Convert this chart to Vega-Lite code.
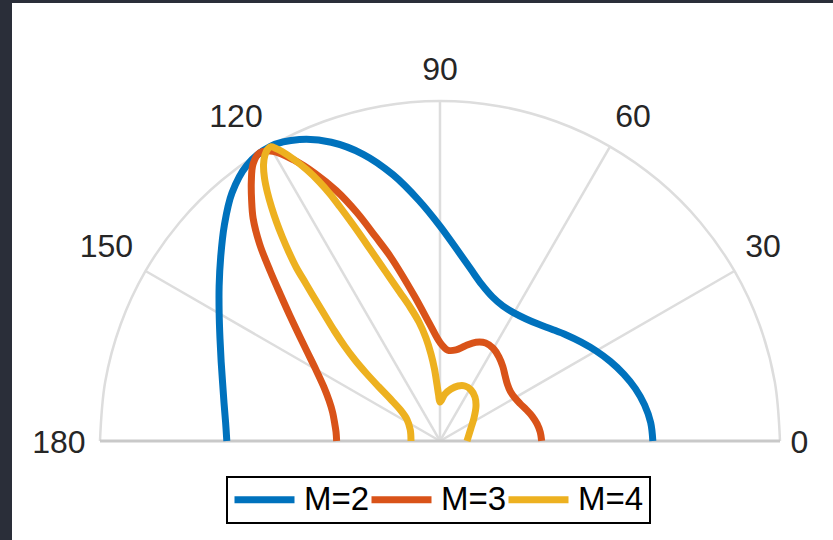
{
  "$schema": "https://vega.github.io/schema/vega-lite/v6.json",
  "width": 821,
  "height": 537,
  "autosize": {"type": "none"},
  "padding": {"left": 12, "top": 3, "right": 0, "bottom": 0},
  "background": "#2a2e39",
  "view": {"fill": "white", "stroke": null},
  "config": {
    "legend": {"strokeWidth": 2},
    "text": {"font": "Liberation Sans"}
  },
  "datasets": {
    "arc": [
      {"i": 0, "x": 1, "y": 0}, {"i": 1, "x": 0.9848, "y": 0.1736}, {"i": 2, "x": 0.9397, "y": 0.342},
      {"i": 3, "x": 0.866, "y": 0.5}, {"i": 4, "x": 0.766, "y": 0.6428}, {"i": 5, "x": 0.6428, "y": 0.766},
      {"i": 6, "x": 0.5, "y": 0.866}, {"i": 7, "x": 0.342, "y": 0.9397}, {"i": 8, "x": 0.1736, "y": 0.9848},
      {"i": 9, "x": 0, "y": 1}, {"i": 10, "x": -0.1736, "y": 0.9848}, {"i": 11, "x": -0.342, "y": 0.9397},
      {"i": 12, "x": -0.5, "y": 0.866}, {"i": 13, "x": -0.6428, "y": 0.766}, {"i": 14, "x": -0.766, "y": 0.6428},
      {"i": 15, "x": -0.866, "y": 0.5}, {"i": 16, "x": -0.9397, "y": 0.342}, {"i": 17, "x": -0.9848, "y": 0.1736},
      {"i": 18, "x": -1, "y": 0}
    ],
    "spokes": [
      {"x0": 0, "y0": 0, "x1": 0.866, "y1": 0.5},
      {"x0": 0, "y0": 0, "x1": 0.5, "y1": 0.866},
      {"x0": 0, "y0": 0, "x1": 0, "y1": 1},
      {"x0": 0, "y0": 0, "x1": -0.5, "y1": 0.866},
      {"x0": 0, "y0": 0, "x1": -0.866, "y1": 0.5}
    ],
    "base": [{"x0": -1, "y0": 0, "x1": 1, "y1": 0}],
    "labels": [
      {"t": "0", "lx": 1.057, "ly": -0.006},
      {"t": "30", "lx": 0.95, "ly": 0.572},
      {"t": "60", "lx": 0.568, "ly": 0.954},
      {"t": "90", "lx": 0, "ly": 1.091},
      {"t": "120", "lx": -0.6, "ly": 0.954},
      {"t": "150", "lx": -0.981, "ly": 0.572},
      {"t": "180", "lx": -1.121, "ly": -0.007}
    ],
    "curves": [
      {"s": "M=2", "i": 0, "x": 0.626, "y": 0},
      {"s": "M=2", "i": 1, "x": 0.6196, "y": 0.0542},
      {"s": "M=2", "i": 2, "x": 0.6017, "y": 0.1061},
      {"s": "M=2", "i": 3, "x": 0.5747, "y": 0.154},
      {"s": "M=2", "i": 4, "x": 0.5403, "y": 0.1967},
      {"s": "M=2", "i": 5, "x": 0.5012, "y": 0.2337},
      {"s": "M=2", "i": 6, "x": 0.459, "y": 0.265},
      {"s": "M=2", "i": 7, "x": 0.4153, "y": 0.2908},
      {"s": "M=2", "i": 8, "x": 0.3715, "y": 0.3118},
      {"s": "M=2", "i": 9, "x": 0.3288, "y": 0.3288},
      {"s": "M=2", "i": 10, "x": 0.2886, "y": 0.3439},
      {"s": "M=2", "i": 11, "x": 0.2518, "y": 0.3596},
      {"s": "M=2", "i": 12, "x": 0.2175, "y": 0.3767},
      {"s": "M=2", "i": 13, "x": 0.1851, "y": 0.397},
      {"s": "M=2", "i": 14, "x": 0.1542, "y": 0.4238},
      {"s": "M=2", "i": 15, "x": 0.1232, "y": 0.4598},
      {"s": "M=2", "i": 16, "x": 0.0894, "y": 0.5072},
      {"s": "M=2", "i": 17, "x": 0.0494, "y": 0.5638},
      {"s": "M=2", "i": 18, "x": 0, "y": 0.632},
      {"s": "M=2", "i": 19, "x": -0.0619, "y": 0.7073},
      {"s": "M=2", "i": 20, "x": -0.138, "y": 0.7829},
      {"s": "M=2", "i": 21, "x": -0.2259, "y": 0.8432},
      {"s": "M=2", "i": 22, "x": -0.3198, "y": 0.8786},
      {"s": "M=2", "i": 23, "x": -0.4133, "y": 0.8864},
      {"s": "M=2", "i": 24, "x": -0.5, "y": 0.866},
      {"s": "M=2", "i": 25, "x": -0.5678, "y": 0.811},
      {"s": "M=2", "i": 26, "x": -0.6119, "y": 0.7292},
      {"s": "M=2", "i": 27, "x": -0.6343, "y": 0.6343},
      {"s": "M=2", "i": 28, "x": -0.645, "y": 0.5412},
      {"s": "M=2", "i": 29, "x": -0.6496, "y": 0.4549},
      {"s": "M=2", "i": 30, "x": -0.6495, "y": 0.375},
      {"s": "M=2", "i": 31, "x": -0.6471, "y": 0.3017},
      {"s": "M=2", "i": 32, "x": -0.6437, "y": 0.2343},
      {"s": "M=2", "i": 33, "x": -0.6394, "y": 0.1713},
      {"s": "M=2", "i": 34, "x": -0.6352, "y": 0.112},
      {"s": "M=2", "i": 35, "x": -0.6306, "y": 0.0552},
      {"s": "M=2", "i": 36, "x": -0.627, "y": 0},

      {"s": "M=3", "i": 0, "x": 0.299, "y": 0},
      {"s": "M=3", "i": 1, "x": 0.2949, "y": 0.0258},
      {"s": "M=3", "i": 2, "x": 0.2856, "y": 0.0503},
      {"s": "M=3", "i": 3, "x": 0.2714, "y": 0.0727},
      {"s": "M=3", "i": 4, "x": 0.2537, "y": 0.0923},
      {"s": "M=3", "i": 5, "x": 0.2356, "y": 0.1099},
      {"s": "M=3", "i": 6, "x": 0.22, "y": 0.127},
      {"s": "M=3", "i": 7, "x": 0.2073, "y": 0.1451},
      {"s": "M=3", "i": 8, "x": 0.1984, "y": 0.1665},
      {"s": "M=3", "i": 9, "x": 0.1916, "y": 0.1916},
      {"s": "M=3", "i": 10, "x": 0.1845, "y": 0.2198},
      {"s": "M=3", "i": 11, "x": 0.1732, "y": 0.2474},
      {"s": "M=3", "i": 12, "x": 0.157, "y": 0.2719},
      {"s": "M=3", "i": 13, "x": 0.1344, "y": 0.2882},
      {"s": "M=3", "i": 14, "x": 0.1057, "y": 0.2904},
      {"s": "M=3", "i": 15, "x": 0.0751, "y": 0.2801},
      {"s": "M=3", "i": 16, "x": 0.0472, "y": 0.2679},
      {"s": "M=3", "i": 17, "x": 0.0234, "y": 0.267},
      {"s": "M=3", "i": 18, "x": 0, "y": 0.29},
      {"s": "M=3", "i": 19, "x": -0.0301, "y": 0.3437},
      {"s": "M=3", "i": 20, "x": -0.0752, "y": 0.4264},
      {"s": "M=3", "i": 21, "x": -0.1449, "y": 0.5409},
      {"s": "M=3", "i": 22, "x": -0.1894, "y": 0.6008},
      {"s": "M=3", "i": 23, "x": -0.2445, "y": 0.6719},
      {"s": "M=3", "i": 24, "x": -0.305, "y": 0.7363},
      {"s": "M=3", "i": 25, "x": -0.3668, "y": 0.7867},
      {"s": "M=3", "i": 26, "x": -0.4303, "y": 0.8267},
      {"s": "M=3", "i": 27, "x": -0.492, "y": 0.8521},
      {"s": "M=3", "i": 28, "x": -0.5299, "y": 0.848},
      {"s": "M=3", "i": 29, "x": -0.5497, "y": 0.8149},
      {"s": "M=3", "i": 30, "x": -0.5549, "y": 0.7637},
      {"s": "M=3", "i": 31, "x": -0.5541, "y": 0.7092},
      {"s": "M=3", "i": 32, "x": -0.5496, "y": 0.6549},
      {"s": "M=3", "i": 33, "x": -0.5303, "y": 0.5788},
      {"s": "M=3", "i": 34, "x": -0.4992, "y": 0.4992},
      {"s": "M=3", "i": 35, "x": -0.4689, "y": 0.4297},
      {"s": "M=3", "i": 36, "x": -0.4427, "y": 0.3715},
      {"s": "M=3", "i": 37, "x": -0.3989, "y": 0.2793},
      {"s": "M=3", "i": 38, "x": -0.3655, "y": 0.211},
      {"s": "M=3", "i": 39, "x": -0.3417, "y": 0.1593},
      {"s": "M=3", "i": 40, "x": -0.3261, "y": 0.1187},
      {"s": "M=3", "i": 41, "x": -0.3159, "y": 0.0846},
      {"s": "M=3", "i": 42, "x": -0.3102, "y": 0.0547},
      {"s": "M=3", "i": 43, "x": -0.3058, "y": 0.0268},
      {"s": "M=3", "i": 44, "x": -0.304, "y": 0},

      {"s": "M=4", "i": 0, "x": 0.0794, "y": 0},
      {"s": "M=4", "i": 1, "x": 0.0912, "y": 0.0382},
      {"s": "M=4", "i": 2, "x": 0.1, "y": 0.0676},
      {"s": "M=4", "i": 3, "x": 0.1059, "y": 0.1029},
      {"s": "M=4", "i": 4, "x": 0.1029, "y": 0.1294},
      {"s": "M=4", "i": 5, "x": 0.0912, "y": 0.15},
      {"s": "M=4", "i": 6, "x": 0.0735, "y": 0.1618},
      {"s": "M=4", "i": 7, "x": 0.0529, "y": 0.1618},
      {"s": "M=4", "i": 8, "x": 0.0324, "y": 0.1529},
      {"s": "M=4", "i": 9, "x": 0.0147, "y": 0.1382},
      {"s": "M=4", "i": 10, "x": 0, "y": 0.1147},
      {"s": "M=4", "i": 11, "x": -0.0041, "y": 0.1353},
      {"s": "M=4", "i": 12, "x": -0.0091, "y": 0.1676},
      {"s": "M=4", "i": 13, "x": -0.0162, "y": 0.2118},
      {"s": "M=4", "i": 14, "x": -0.0265, "y": 0.2559},
      {"s": "M=4", "i": 15, "x": -0.0412, "y": 0.3029},
      {"s": "M=4", "i": 16, "x": -0.0618, "y": 0.35},
      {"s": "M=4", "i": 17, "x": -0.0882, "y": 0.3941},
      {"s": "M=4", "i": 18, "x": -0.1176, "y": 0.4368},
      {"s": "M=4", "i": 19, "x": -0.1471, "y": 0.4794},
      {"s": "M=4", "i": 20, "x": -0.1765, "y": 0.5221},
      {"s": "M=4", "i": 21, "x": -0.2059, "y": 0.5647},
      {"s": "M=4", "i": 22, "x": -0.2353, "y": 0.6074},
      {"s": "M=4", "i": 23, "x": -0.2647, "y": 0.6485},
      {"s": "M=4", "i": 24, "x": -0.2941, "y": 0.6882},
      {"s": "M=4", "i": 25, "x": -0.3235, "y": 0.7265},
      {"s": "M=4", "i": 26, "x": -0.3559, "y": 0.7632},
      {"s": "M=4", "i": 27, "x": -0.3912, "y": 0.7971},
      {"s": "M=4", "i": 28, "x": -0.4294, "y": 0.8279},
      {"s": "M=4", "i": 29, "x": -0.4647, "y": 0.8515},
      {"s": "M=4", "i": 30, "x": -0.4824, "y": 0.8603},
      {"s": "M=4", "i": 31, "x": -0.4971, "y": 0.8653},
      {"s": "M=4", "i": 32, "x": -0.5074, "y": 0.8574},
      {"s": "M=4", "i": 33, "x": -0.5153, "y": 0.8397},
      {"s": "M=4", "i": 34, "x": -0.5191, "y": 0.8118},
      {"s": "M=4", "i": 35, "x": -0.5162, "y": 0.7735},
      {"s": "M=4", "i": 36, "x": -0.5079, "y": 0.7324},
      {"s": "M=4", "i": 37, "x": -0.4956, "y": 0.6882},
      {"s": "M=4", "i": 38, "x": -0.4809, "y": 0.6441},
      {"s": "M=4", "i": 39, "x": -0.4638, "y": 0.6},
      {"s": "M=4", "i": 40, "x": -0.4447, "y": 0.5559},
      {"s": "M=4", "i": 41, "x": -0.4226, "y": 0.5103},
      {"s": "M=4", "i": 42, "x": -0.3956, "y": 0.4647},
      {"s": "M=4", "i": 43, "x": -0.3676, "y": 0.4176},
      {"s": "M=4", "i": 44, "x": -0.3391, "y": 0.3706},
      {"s": "M=4", "i": 45, "x": -0.3103, "y": 0.3235},
      {"s": "M=4", "i": 46, "x": -0.2809, "y": 0.2794},
      {"s": "M=4", "i": 47, "x": -0.25, "y": 0.2382},
      {"s": "M=4", "i": 48, "x": -0.2162, "y": 0.1985},
      {"s": "M=4", "i": 49, "x": -0.1809, "y": 0.1603},
      {"s": "M=4", "i": 50, "x": -0.1456, "y": 0.1235},
      {"s": "M=4", "i": 51, "x": -0.1162, "y": 0.0912},
      {"s": "M=4", "i": 52, "x": -0.0971, "y": 0.0632},
      {"s": "M=4", "i": 53, "x": -0.0874, "y": 0.0324},
      {"s": "M=4", "i": 54, "x": -0.0853, "y": 0}
    ]
  },
  "layer": [
    {
      "data": {"name": "arc"},
      "mark": {"type": "line", "interpolate": "catmull-rom", "stroke": "#dddddd", "strokeWidth": 2.5},
      "encoding": {
        "x": {"field": "x", "type": "quantitative", "scale": {"domain": [-1.2588, 1.1559], "nice": false, "zero": false}, "axis": null},
        "y": {"field": "y", "type": "quantitative", "scale": {"domain": [-0.2912, 1.2882], "nice": false, "zero": false}, "axis": null},
        "order": {"field": "i", "type": "quantitative"}
      }
    },
    {
      "data": {"name": "spokes"},
      "mark": {"type": "rule", "stroke": "#dddddd", "strokeWidth": 2.5},
      "encoding": {
        "x": {"field": "x0", "type": "quantitative", "scale": {"domain": [-1.2588, 1.1559], "nice": false, "zero": false}, "axis": null},
        "y": {"field": "y0", "type": "quantitative", "scale": {"domain": [-0.2912, 1.2882], "nice": false, "zero": false}, "axis": null},
        "x2": {"field": "x1"},
        "y2": {"field": "y1"}
      }
    },
    {
      "data": {"name": "base"},
      "mark": {"type": "rule", "stroke": "#c9c9c9", "strokeWidth": 3},
      "encoding": {
        "x": {"field": "x0", "type": "quantitative", "scale": {"domain": [-1.2588, 1.1559], "nice": false, "zero": false}, "axis": null},
        "y": {"field": "y0", "type": "quantitative", "scale": {"domain": [-0.2912, 1.2882], "nice": false, "zero": false}, "axis": null},
        "x2": {"field": "x1"},
        "y2": {"field": "y1"}
      }
    },
    {
      "data": {"name": "curves"},
      "mark": {"type": "line", "interpolate": "catmull-rom", "strokeWidth": 7},
      "encoding": {
        "x": {"field": "x", "type": "quantitative", "scale": {"domain": [-1.2588, 1.1559], "nice": false, "zero": false}, "axis": null},
        "y": {"field": "y", "type": "quantitative", "scale": {"domain": [-0.2912, 1.2882], "nice": false, "zero": false}, "axis": null},
        "order": {"field": "i", "type": "quantitative"},
        "color": {
          "field": "s",
          "type": "nominal",
          "scale": {"domain": ["M=2", "M=3", "M=4"], "range": ["#0072BD", "#D95319", "#EDB120"]},
          "legend": {
            "orient": "none",
            "legendX": 215,
            "legendY": 474,
            "direction": "horizontal",
            "title": null,
            "symbolType": "M-2.3077,0H2.3077",
            "symbolSize": 676,
            "symbolStrokeWidth": 7,
            "symbolOffset": 15,
            "labelFontSize": 33,
            "labelFont": "Liberation Sans",
            "labelColor": "black",
            "labelOffset": 23,
            "columnPadding": -15,
            "padding": 6,
            "fillColor": "white",
            "strokeColor": "black"
          }
        }
      }
    },
    {
      "data": {"name": "labels"},
      "mark": {"type": "text", "fontSize": 32, "color": "#262626", "align": "center", "baseline": "middle"},
      "encoding": {
        "x": {"field": "lx", "type": "quantitative", "scale": {"domain": [-1.2588, 1.1559], "nice": false, "zero": false}, "axis": null},
        "y": {"field": "ly", "type": "quantitative", "scale": {"domain": [-0.2912, 1.2882], "nice": false, "zero": false}, "axis": null},
        "text": {"field": "t"}
      }
    }
  ]
}
